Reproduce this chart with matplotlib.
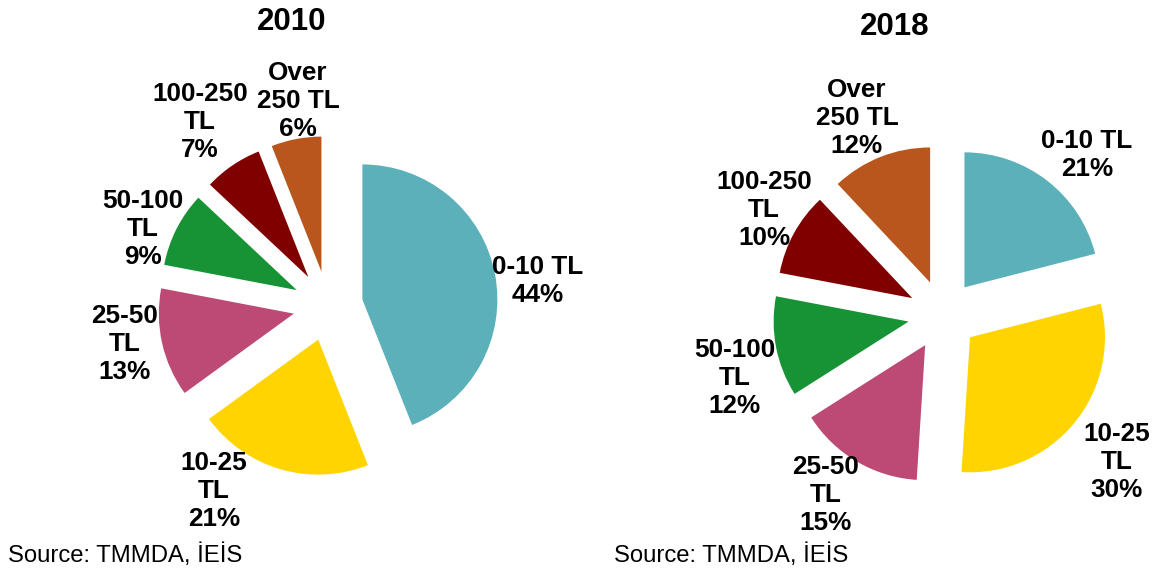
import matplotlib
matplotlib.use("Agg")
import matplotlib.pyplot as plt

plt.rcParams['font.family'] = ['Liberation Sans', 'DejaVu Sans']

# ---- DATA ----
categories = ["0-10 TL", "10-25 TL", "25-50 TL", "50-100 TL", "100-250 TL", "Over 250 TL"]
label_text = ["0-10 TL", "10-25\nTL", "25-50\nTL", "50-100\nTL", "100-250\nTL", "Over\n250 TL"]
share_2010 = [44, 21, 13, 9, 7, 6]
share_2018 = [21, 30, 15, 12, 10, 12]
colors = ["#5BB0BA", "#FFD400", "#BC4A75", "#179336", "#800000", "#B8561E"]
source = "Source: TMMDA, İEİS"

# ---- LAYOUT (pixels, figure is 1155 x 571) ----
W, H = 1155, 571
RADIUS = 135
EXPLODE = 35
pies = [
    ("2010", share_2010, (328, 306), (292, 22),
     [(538, 281), (214, 491), (125, 344), (143, 229), (200, 122), (298, 101)], 8),
    ("2018", share_2018, (943, 315), (895, 27),
     [(1087, 155), (1117, 462), (826, 495), (735, 378), (764, 210), (857, 118)], 614),
]

fig = plt.figure(figsize=(W / 100, H / 100), dpi=100)
ax = fig.add_axes([0, 0, 1, 1])

for title, values, centre, title_pos, label_pos, src_x in pies:
    ax.pie(values, colors=colors, startangle=90, counterclock=False,
           center=(centre[0], H - centre[1]), radius=RADIUS,
           explode=[EXPLODE] * len(values),
           wedgeprops=dict(linewidth=0))
    ax.text(title_pos[0], H - title_pos[1], title, ha='center', va='center',
            fontsize=22.5, fontweight='bold')
    for txt, val, (lx, ly) in zip(label_text, values, label_pos):
        ax.text(lx, H - ly, f"{txt}\n{val}%", ha='center', va='center',
                multialignment='center', fontsize=18.8, fontweight='bold',
                linespacing=1.23)
    ax.text(src_x, H - 555, source, ha='left', va='center', fontsize=17.2)

ax.set_xlim(0, W)
ax.set_ylim(0, H)
ax.set_aspect('auto')
ax.axis('off')

fig.savefig("out.png", dpi=100)
